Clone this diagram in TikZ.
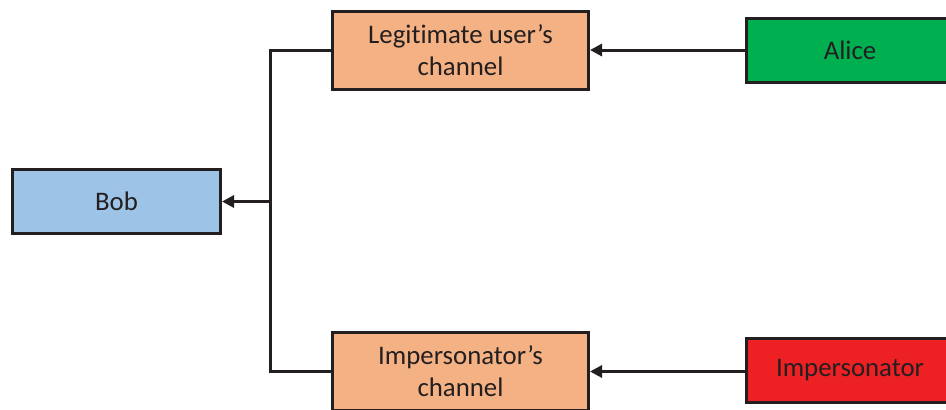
\documentclass[tikz,border=0pt]{standalone}
\usepackage{fontspec}
\setmainfont{Carlito}[Ligatures=NoCommon]
\usepackage{xcolor}
\usepackage{tikz}
\usetikzlibrary{positioning,calc,arrows.meta}

\definecolor{chanfill}{HTML}{F4B183}
\definecolor{alicefill}{HTML}{00B050}
\definecolor{bobfill}{HTML}{9DC3E6}
\definecolor{impfill}{HTML}{ED2024}
\definecolor{inkdark}{HTML}{231F20}

\begin{document}
\begin{tikzpicture}[
    x=0.5pt, y=-0.5pt,
    every node/.style={font=\fontsize{13.4}{16}\selectfont, text=inkdark},
    blk/.style={draw=inkdark, line width=1.5pt, align=center,
                minimum width=104pt, minimum height=32pt, inner sep=2pt},
    chan/.style={blk, fill=chanfill, minimum width=128pt, minimum height=39pt},
    link/.style={draw=inkdark, line width=1.5pt},
    feed/.style={link, -{Triangle[length=6pt,width=6pt]}},
]
\useasboundingbox (0,0) rectangle (946,409);
\clip (0,0) rectangle (946,409);

% =====================================================================
% Receiver and the two channels
% =====================================================================
\node[blk, fill=bobfill] (bob) at (116.5,201.5) {Bob};
\node[chan] (legit) at (460.5,50.5) {Legitimate user's\\channel};
\node[chan] (impch) at (460.5,371.5) {Impersonator's\\channel};

% Senders, running off the right edge
\node[blk, fill=alicefill] (alice) at (850,50) {Alice};
\node[blk, fill=impfill] (imper) at (850,370) {Impersonator};

% Senders feeding their channels
\draw[feed] (alice.west) -- (alice.west -| legit.east);
\draw[feed] (imper.west |- impch.east) -- (impch.east);

% Both channels merge into Bob
\coordinate (split) at (270,201.5);
\draw[link] (legit.west) -| (split) |- (impch.west);
\draw[feed] (split) -- (bob.east);

\end{tikzpicture}
\end{document}
